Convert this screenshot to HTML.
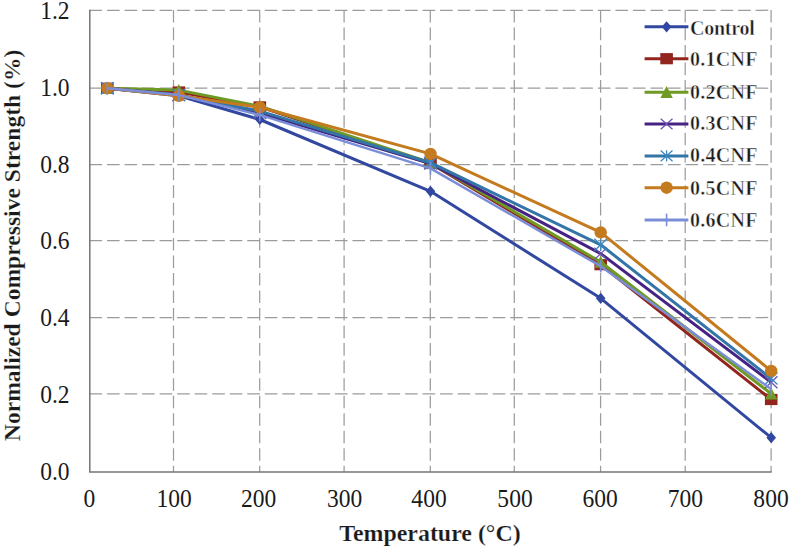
<!DOCTYPE html>
<html><head><meta charset="utf-8"><title>Chart</title>
<style>html,body{margin:0;padding:0;background:#fff;}svg{display:block;}text{font-family:"Liberation Serif",serif;fill:#1a1a1a;}.b{font-weight:bold;stroke:#fff;stroke-width:0.45px;}.t{font-weight:bold;stroke:#fff;stroke-width:0.2px;}</style>
</head><body>
<svg width="791" height="549" viewBox="0 0 791 549">
<rect width="791" height="549" fill="#ffffff"/>
<g stroke="#9c9c9c" stroke-width="1.25" stroke-dasharray="12.6 4.93" fill="none">
<path d="M89.5 10.25H771.1"/>
<path d="M89.5 88.2H771.1"/>
<path d="M89.5 164.7H771.1"/>
<path d="M89.5 240.7H771.1"/>
<path d="M89.5 317.5H771.1"/>
<path d="M89.5 393.8H771.1"/>
<path d="M173.5 10V472.0"/>
<path d="M259.7 10V472.0"/>
<path d="M344.1 10V472.0"/>
<path d="M430.3 10V472.0"/>
<path d="M514.3 10V472.0"/>
<path d="M600.6 10V472.0"/>
<path d="M685.2 10V472.0"/>
<path d="M771.1 10V472.0"/>
</g>
<path d="M89.8 9.65V472.0H771.7" stroke="#757575" stroke-width="1.5" fill="none"/>
<g font-size="24">
<text transform="translate(89.4 507) scale(0.98 1.08)" text-anchor="middle">0</text>
<text transform="translate(174.2 507) scale(0.98 1.08)" text-anchor="middle">100</text>
<text transform="translate(258.6 507) scale(0.98 1.08)" text-anchor="middle">200</text>
<text transform="translate(344.6 507) scale(0.98 1.08)" text-anchor="middle">300</text>
<text transform="translate(429.0 507) scale(0.98 1.08)" text-anchor="middle">400</text>
<text transform="translate(515.0 507) scale(0.98 1.08)" text-anchor="middle">500</text>
<text transform="translate(600.2 507) scale(0.98 1.08)" text-anchor="middle">600</text>
<text transform="translate(685.4 507) scale(0.98 1.08)" text-anchor="middle">700</text>
<text transform="translate(771.0 507) scale(0.98 1.08)" text-anchor="middle">800</text>
<text transform="translate(69.6 480) scale(0.98 1.08)" text-anchor="end">0.0</text>
<text transform="translate(69.6 403) scale(0.98 1.08)" text-anchor="end">0.2</text>
<text transform="translate(69.6 326) scale(0.98 1.08)" text-anchor="end">0.4</text>
<text transform="translate(69.6 249) scale(0.98 1.08)" text-anchor="end">0.6</text>
<text transform="translate(69.6 173) scale(0.98 1.08)" text-anchor="end">0.8</text>
<text transform="translate(69.6 96) scale(0.98 1.08)" text-anchor="end">1.0</text>
<text transform="translate(69.6 19) scale(0.98 1.08)" text-anchor="end">1.2</text>
</g>
<text x="429.9" y="541.2" font-size="24" class="t" text-anchor="middle" textLength="181.5" lengthAdjust="spacingAndGlyphs">Temperature (°C)</text>
<text transform="translate(19.6 245.4) rotate(-90)" font-size="24" class="t" text-anchor="middle" textLength="391.5" lengthAdjust="spacingAndGlyphs">Normalized Compressive Strength (%)</text>
<polyline points="107.3,88.2 178.8,95.8 259.8,119.5 430.5,191.3 600.7,298.3 771.2,437.7" fill="none" stroke="#3147A0" stroke-width="3.0" stroke-linejoin="round"/>
<path d="M107.3 82.6L112.1 88.2L107.3 93.8L102.5 88.2Z" fill="#3147A0"/>
<path d="M178.8 90.2L183.6 95.8L178.8 101.4L174.0 95.8Z" fill="#3147A0"/>
<path d="M259.8 113.9L264.6 119.5L259.8 125.1L255.0 119.5Z" fill="#3147A0"/>
<path d="M430.5 185.7L435.3 191.3L430.5 196.9L425.7 191.3Z" fill="#3147A0"/>
<path d="M600.7 292.7L605.5 298.3L600.7 303.9L595.9 298.3Z" fill="#3147A0"/>
<path d="M771.2 432.1L776.0 437.7L771.2 443.3L766.4 437.7Z" fill="#3147A0"/>
<polyline points="107.3,88.2 178.8,92.0 259.8,106.9 430.5,163.5 600.7,264.7 771.2,399.5" fill="none" stroke="#92261F" stroke-width="3.0" stroke-linejoin="round"/>
<rect x="101.0" y="82.6" width="12.6" height="11.2" fill="#92261F"/>
<rect x="172.5" y="86.4" width="12.6" height="11.2" fill="#92261F"/>
<rect x="253.5" y="101.3" width="12.6" height="11.2" fill="#92261F"/>
<rect x="424.2" y="157.9" width="12.6" height="11.2" fill="#92261F"/>
<rect x="594.4" y="259.1" width="12.6" height="11.2" fill="#92261F"/>
<rect x="764.9" y="393.9" width="12.6" height="11.2" fill="#92261F"/>
<polyline points="107.3,88.2 178.8,90.1 259.8,106.2 430.5,162.7 600.7,262.0 771.2,393.8" fill="none" stroke="#6F9A24" stroke-width="3.0" stroke-linejoin="round"/>
<path d="M107.3 82.0L113.5 94.0L101.1 94.0Z" fill="#6F9A24"/>
<path d="M178.8 83.9L185.0 95.9L172.6 95.9Z" fill="#6F9A24"/>
<path d="M259.8 100.0L266.0 112.0L253.6 112.0Z" fill="#6F9A24"/>
<path d="M430.5 156.5L436.7 168.5L424.3 168.5Z" fill="#6F9A24"/>
<path d="M600.7 255.8L606.9 267.8L594.5 267.8Z" fill="#6F9A24"/>
<path d="M771.2 387.6L777.4 399.6L765.0 399.6Z" fill="#6F9A24"/>
<polyline points="107.3,88.2 178.8,95.1 259.8,113.0 430.5,163.5 600.7,253.6 771.2,382.3" fill="none" stroke="#452283" stroke-width="3.0" stroke-linejoin="round"/>
<path d="M101.0 82.2L113.6 94.2M113.6 82.2L101.0 94.2" stroke="#6A55B0" stroke-width="1.3" fill="none"/>
<path d="M172.5 89.1L185.1 101.1M185.1 89.1L172.5 101.1" stroke="#6A55B0" stroke-width="1.3" fill="none"/>
<path d="M253.5 107.0L266.1 119.0M266.1 107.0L253.5 119.0" stroke="#6A55B0" stroke-width="1.3" fill="none"/>
<path d="M424.2 157.5L436.8 169.5M436.8 157.5L424.2 169.5" stroke="#6A55B0" stroke-width="1.3" fill="none"/>
<path d="M594.4 247.6L607.0 259.6M607.0 247.6L594.4 259.6" stroke="#6A55B0" stroke-width="1.3" fill="none"/>
<path d="M764.9 376.3L777.5 388.3M777.5 376.3L764.9 388.3" stroke="#6A55B0" stroke-width="1.3" fill="none"/>
<polyline points="107.3,88.2 178.8,95.1 259.8,111.1 430.5,162.7 600.7,244.8 771.2,378.5" fill="none" stroke="#3275A6" stroke-width="3.0" stroke-linejoin="round"/>
<path d="M101.0 82.2L113.6 94.2M113.6 82.2L101.0 94.2M107.3 81.9L107.3 94.5" stroke="#3F86BE" stroke-width="1.3" fill="none"/>
<path d="M172.5 89.1L185.1 101.1M185.1 89.1L172.5 101.1M178.8 88.8L178.8 101.4" stroke="#3F86BE" stroke-width="1.3" fill="none"/>
<path d="M253.5 105.1L266.1 117.1M266.1 105.1L253.5 117.1M259.8 104.8L259.8 117.4" stroke="#3F86BE" stroke-width="1.3" fill="none"/>
<path d="M424.2 156.7L436.8 168.7M436.8 156.7L424.2 168.7M430.5 156.4L430.5 169.0" stroke="#3F86BE" stroke-width="1.3" fill="none"/>
<path d="M594.4 238.8L607.0 250.8M607.0 238.8L594.4 250.8M600.7 238.5L600.7 251.1" stroke="#3F86BE" stroke-width="1.3" fill="none"/>
<path d="M764.9 372.5L777.5 384.5M777.5 372.5L764.9 384.5M771.2 372.2L771.2 384.8" stroke="#3F86BE" stroke-width="1.3" fill="none"/>
<polyline points="107.3,88.2 178.8,95.8 259.8,107.3 430.5,153.9 600.7,232.4 771.2,370.9" fill="none" stroke="#C47A1E" stroke-width="3.0" stroke-linejoin="round"/>
<circle cx="107.3" cy="88.2" r="6.2" fill="#C47A1E"/>
<circle cx="178.8" cy="95.8" r="6.2" fill="#C47A1E"/>
<circle cx="259.8" cy="107.3" r="6.2" fill="#C47A1E"/>
<circle cx="430.5" cy="153.9" r="6.2" fill="#C47A1E"/>
<circle cx="600.7" cy="232.4" r="6.2" fill="#C47A1E"/>
<circle cx="771.2" cy="370.9" r="6.2" fill="#C47A1E"/>
<polyline points="107.3,88.2 178.8,95.1 259.8,114.9 430.5,168.4 600.7,266.2 771.2,389.2" fill="none" stroke="#7A8DD8" stroke-width="2.5" stroke-linejoin="round"/>
<path d="M107.3 81.9L107.3 94.5" stroke="#7A8DD8" stroke-width="1.6" fill="none"/>
<path d="M178.8 88.8L178.8 101.4" stroke="#7A8DD8" stroke-width="1.6" fill="none"/>
<path d="M259.8 108.6L259.8 121.2" stroke="#7A8DD8" stroke-width="1.6" fill="none"/>
<path d="M430.5 162.1L430.5 174.7" stroke="#7A8DD8" stroke-width="1.6" fill="none"/>
<path d="M600.7 259.9L600.7 272.5" stroke="#7A8DD8" stroke-width="1.6" fill="none"/>
<path d="M771.2 382.9L771.2 395.5" stroke="#7A8DD8" stroke-width="1.6" fill="none"/>
<path d="M644.6 26.8H688.4" stroke="#3147A0" stroke-width="3.0" fill="none"/>
<path d="M666.6 21.2L671.4 26.8L666.6 32.4L661.8 26.8Z" fill="#3147A0"/>
<text x="690.0" y="35" font-size="20" class="b" textLength="64.8" lengthAdjust="spacing">Control</text>
<path d="M644.6 58.7H688.4" stroke="#92261F" stroke-width="3.0" fill="none"/>
<rect x="660.3" y="53.1" width="12.6" height="11.2" fill="#92261F"/>
<text x="690.0" y="66" font-size="20" class="b" textLength="67.4" lengthAdjust="spacing">0.1CNF</text>
<path d="M644.6 92.3H688.4" stroke="#6F9A24" stroke-width="3.0" fill="none"/>
<path d="M666.6 86.1L672.8 98.1L660.4 98.1Z" fill="#6F9A24"/>
<text x="690.0" y="98.5" font-size="20" class="b" textLength="67.4" lengthAdjust="spacing">0.2CNF</text>
<path d="M644.6 124.0H688.4" stroke="#452283" stroke-width="3.0" fill="none"/>
<path d="M660.7 118.7L672.5 129.3M672.5 118.7L660.7 129.3" stroke="#6A55B0" stroke-width="1.3" fill="none"/>
<text x="690.0" y="130" font-size="20" class="b" textLength="67.4" lengthAdjust="spacing">0.3CNF</text>
<path d="M644.6 155.9H688.4" stroke="#3275A6" stroke-width="3.0" fill="none"/>
<path d="M660.7 150.6L672.5 161.2M672.5 150.6L660.7 161.2M666.6 150.3L666.6 161.5" stroke="#3F86BE" stroke-width="1.3" fill="none"/>
<text x="690.0" y="162" font-size="20" class="b" textLength="67.4" lengthAdjust="spacing">0.4CNF</text>
<path d="M644.6 187.7H688.4" stroke="#C47A1E" stroke-width="3.0" fill="none"/>
<circle cx="666.6" cy="187.7" r="6.2" fill="#C47A1E"/>
<text x="690.0" y="195" font-size="20" class="b" textLength="67.4" lengthAdjust="spacing">0.5CNF</text>
<path d="M644.6 219.9H688.4" stroke="#7A8DD8" stroke-width="3.0" fill="none"/>
<path d="M666.6 213.6L666.6 226.2" stroke="#7A8DD8" stroke-width="1.6" fill="none"/>
<text x="690.0" y="227" font-size="20" class="b" textLength="67.4" lengthAdjust="spacing">0.6CNF</text>
</svg></body></html>
